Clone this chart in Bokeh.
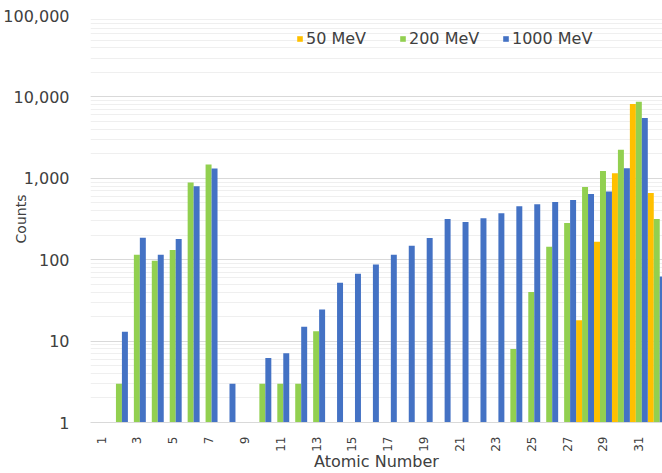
import math
from bokeh.plotting import figure
from bokeh.models import (ColumnDataSource, Range1d, FixedTicker, NumeralTickFormatter,
                          Legend, LegendItem)
from bokeh.embed import file_html
from bokeh.resources import INLINE

# ---- data ----
atomic_numbers = list(range(1, 33))
x_tick_values = list(range(1, 32, 2))

counts_50 = [None] * 27 + [18, 166, 1150, 8200, 660]
counts_200 = [None, 3, 115, 97, 132, 890, 1480, None, None, 3, 3, 3, 13.2,
              None, None, None, None, None, None, None, None, None, None,
              8, 40, 144, 282, 780, 1230, 2250, 8700, 316]
counts_1000 = [None, 13, 186, 115, 180, 800, 1320, 3, None, 6.2, 7.1, 15, 24.5,
               52, 67, 87, 115, 148, 185, 316, 290, 324, 373, 455, 480, 510,
               540, 640, 690, 1330, 5500, 62]

series_names = ["50 MeV", "200 MeV", "1000 MeV"]
series_values = [counts_50, counts_200, counts_1000]
series_colors = ["#FFC000", "#92D050", "#4472C4"]
series_offsets = [-1 / 3, 0.0, 1 / 3]

FONT = "DejaVu Sans"
TEXT = "#404040"

p = figure(width=662, height=473, y_axis_type="log",
           x_range=Range1d(0.414, 32.32), y_range=Range1d(1, 100000),
           output_backend="svg", toolbar_location=None,
           min_border_left=90, min_border_right=0, min_border_top=15,
           min_border_bottom=49)
p.outline_line_color = None
p.background_fill_color = "white"

renderers = []
for name, vals, color, off in zip(series_names, series_values, series_colors, series_offsets):
    xs = [a + off for a, v in zip(atomic_numbers, vals) if v is not None]
    ys = [v for v in vals if v is not None]
    src = ColumnDataSource(dict(x=xs, top=ys))
    r = p.vbar(x="x", top="top", bottom=1, width=1 / 3, source=src,
               fill_color=color, line_color=None)
    renderers.append(r)

# axes
xa = p.xaxis[0]
xa.ticker = FixedTicker(ticks=x_tick_values)
xa.major_label_orientation = math.pi / 2
xa.major_label_text_font = FONT
xa.major_label_text_font_size = "12px"
xa.major_label_text_color = TEXT
xa.major_label_standoff = 8
xa.major_tick_line_color = None
xa.minor_tick_line_color = None
xa.axis_line_color = "#D9D9D9"
xa.axis_label = "Atomic Number"
xa.axis_label_text_font = FONT
xa.axis_label_text_font_size = "16px"
xa.axis_label_text_font_style = "normal"
xa.axis_label_text_color = TEXT
xa.axis_label_standoff = -3

ya = p.yaxis[0]
ya.formatter = NumeralTickFormatter(format="0,0")
ya.major_label_text_font = FONT
ya.major_label_text_font_size = "16px"
ya.major_label_text_color = TEXT
ya.major_tick_line_color = None
ya.minor_tick_line_color = None
ya.major_tick_out = 0
ya.major_label_standoff = 17
ya.axis_line_color = None
ya.axis_label = "Counts"
ya.axis_label_text_font = FONT
ya.axis_label_text_font_size = "14px"
ya.axis_label_text_font_style = "normal"
ya.axis_label_text_color = TEXT
ya.axis_label_standoff = -29

p.xgrid.grid_line_color = None
p.ygrid.grid_line_color = "#D9D9D9"
p.ygrid.minor_grid_line_color = "#EFEFEF"

legend_x = [206, 309, 412]
for name, r, lx in zip(series_names, renderers, legend_x):
    lg = Legend(items=[LegendItem(label=name, renderers=[r])], location=(lx, 374),
                label_text_font=FONT, label_text_font_size="16px",
                label_text_color=TEXT, glyph_width=7, glyph_height=7,
                label_standoff=3, padding=0, margin=0,
                border_line_color=None, background_fill_alpha=0)
    p.add_layout(lg)

open("out.html", "w").write(file_html(p, INLINE))
